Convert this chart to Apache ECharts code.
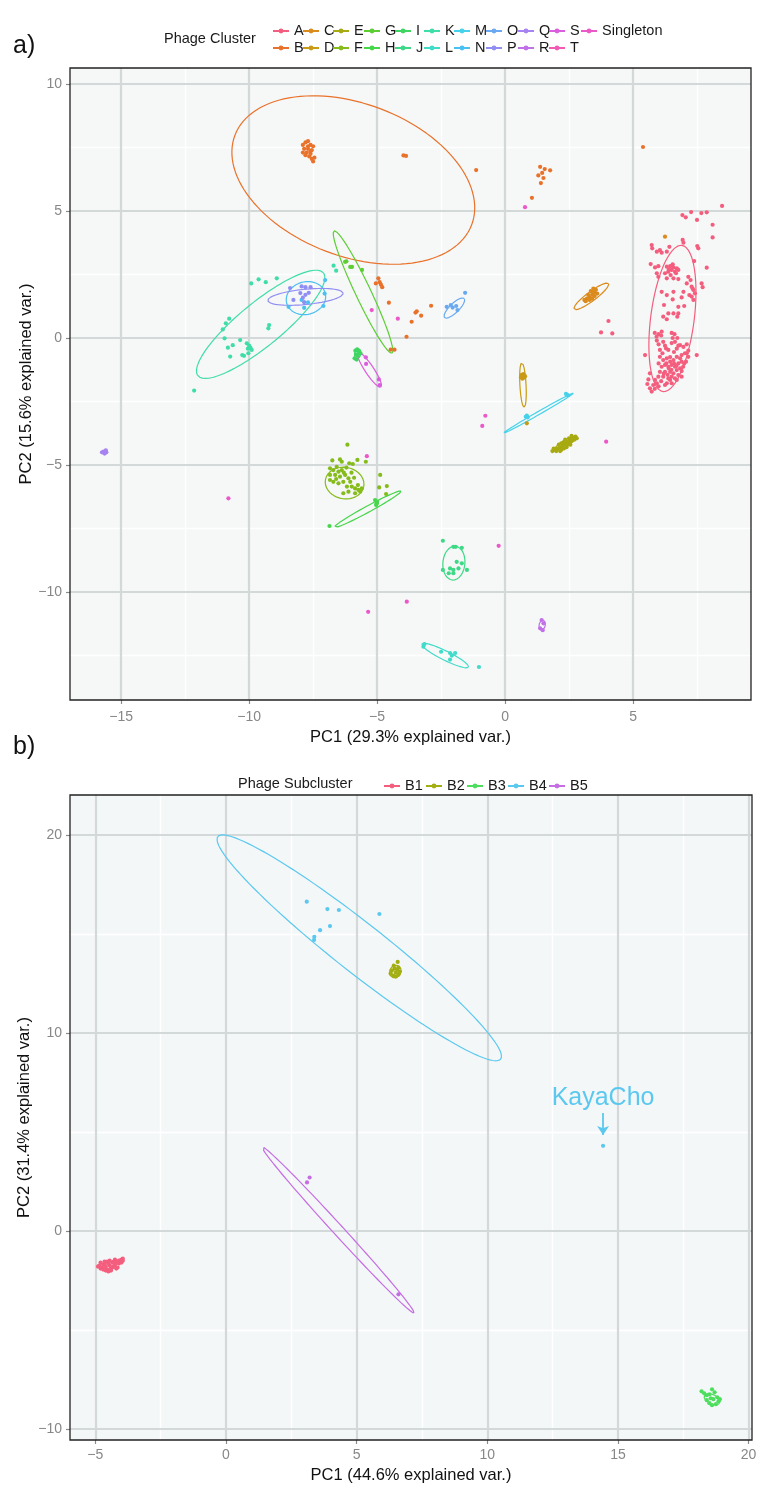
<!DOCTYPE html>
<html><head><meta charset="utf-8">
<script src="https://cdn.jsdelivr.net/npm/echarts@6.0.0/dist/echarts.min.js"></script>
<style>html,body{margin:0;padding:0;background:#fff}#c{width:770px;height:1502px}</style>
</head><body><div id="c"></div>
<script>
// ---------------- DATA: panel a (Phage Cluster) ----------------
const clusterNames = ['A','B','C','D','E','F','G','H','I','J','K','L','M','N','O','P','Q','R','S','T','Singleton'];
const ptsA = [[8.48,5.2],[6.93,4.84],[7.06,4.75],[7.27,4.96],[7.67,4.92],[7.88,4.95],[7.5,4.65],[8.11,4.46],[8.11,3.96],
[6.94,3.86],[6.97,3.75],[5.73,3.66],[5.75,3.53],[5.93,3.4],[6.05,3.46],[6.12,3.36],[6.32,3.4],[6.42,3.59],[7.51,3.62],[7.55,3.53],[7.39,3.03],[7.88,2.77],[5.69,2.91],[5.86,2.78],[5.99,2.83],
[6.32,2.81],[6.45,2.83],[6.58,2.78],[6.71,2.74],[6.51,2.68],[6.64,2.61],[6.38,2.61],[6.25,2.55],[6.47,2.48],[6.77,2.68],[6.32,2.35],[6.58,2.35],[5.93,2.55],[5.99,2.41],[6.4,2.7],[6.55,2.9],[6.68,2.55],
[7.16,2.41],[7.25,2.28],[7.1,2.15],[7.29,2.02],[7.36,1.89],[7.42,1.76],[7.29,1.63],[7.36,1.5],[7.2,1.69],[6.97,1.82],[7.68,2.15],[7.72,2.0],[6.77,2.32],[7.33,1.95],
[6.12,1.82],[6.32,1.69],[6.58,1.82],[6.55,1.52],[6.38,0.97],[6.58,0.97],[6.77,0.97],[6.18,0.84],[6.32,0.74],[6.77,1.23],[7.0,1.26],[6.21,1.3],[6.73,0.84],[6.9,1.6],
[4.04,0.67],[3.75,0.22],[4.19,0.18],
[5.85,0.2],[6.0,0.15],[5.92,0.05],[6.1,0.1],[6.12,0.25],[6.51,0.2],[6.62,0.15],[6.73,0.0],[6.55,0.0],
[5.93,-0.1],[6.0,-0.25],[6.18,-0.15],[6.25,-0.3],[6.51,-0.2],[6.64,-0.15],[6.77,-0.3],[6.71,-0.42],[6.29,-0.41],[6.38,-0.47],[6.05,-0.47],[6.84,-0.28],[6.97,-0.35],[7.1,-0.25],[7.16,-0.5],[7.03,-0.6],[5.47,-0.67],[7.49,-0.67],
[6.05,-0.74],[6.18,-0.87],[6.32,-0.8],[6.45,-0.93],[6.58,-0.87],[6.71,-0.74],[6.84,-0.8],[6.25,-1.06],[6.38,-1.13],[6.51,-1.06],[6.64,-1.13],[6.77,-1.0],[6.9,-0.93],[6.12,-1.13],[6.05,-1.33],[6.25,-1.33],[6.45,-1.33],[6.58,-1.39],[6.71,-1.26],[6.84,-1.19],[6.96,-1.13],[5.99,-1.52],[6.18,-1.52],[6.38,-1.59],[6.51,-1.52],[6.64,-1.59],[6.77,-1.46],[6.32,-1.78],[6.51,-1.78],[6.71,-1.65],[6.9,-1.52],[5.86,-1.65],[5.79,-1.85],[5.93,-1.78],[5.66,-1.39],[5.6,-1.63],[5.56,-1.81],[5.66,-1.98],[5.73,-2.11],[7.1,-0.6],[7.16,-0.74],[7.07,-0.93],[6.9,-0.67],
[6.4,-1.2],[6.3,-1.0],[6.6,-1.0],[6.5,-1.25],[6.2,-1.4],[6.7,-1.1],[6.45,-0.75],[6.35,-1.45],[6.0,-1.0],[6.15,-0.6],[6.6,-0.55],[6.9,-1.3],[7.0,-1.0],[6.1,-1.7],[6.45,-1.65],[6.25,-1.85],[6.0,-1.9],[5.85,-2.0]];
const ptsB = [[-7.9,7.6],[-7.8,7.7],[-7.7,7.75],[-7.6,7.6],[-7.5,7.55],[-7.85,7.45],[-7.7,7.45],[-7.55,7.4],[-7.75,7.3],[-7.6,7.25],[-7.9,7.3],[-7.8,7.2],[-7.65,7.15],[-7.55,7.05],[-7.5,6.95],[-7.45,7.1],[-7.7,7.55],[-7.6,7.35],
[-3.97,7.19],[-3.87,7.17],[-1.13,6.61],[1.37,6.74],[1.55,6.65],[1.45,6.5],[1.3,6.4],[1.76,6.6],[1.5,6.3],[1.4,6.1],[1.05,5.52],[5.39,7.52],
[-4.95,2.35],[-4.9,2.2],[-4.85,2.1],[-5.05,2.15],[-4.8,2.0],[-4.54,1.39],[-3.65,0.64],[-3.5,1.0],[-3.45,1.05],[-3.28,0.88],[-2.89,1.27],[-3.85,0.05],[-4.47,-0.46],[-4.32,-0.46]];
const ptsC = [[3.2,1.55],[3.3,1.6],[3.4,1.7],[3.5,1.8],[3.55,1.9],[3.45,1.95],[3.35,1.85],[3.25,1.7],[3.4,1.55],[3.5,1.65],[3.6,1.75],[3.3,1.5],[3.15,1.45],[3.1,1.5],[3.45,1.8],[6.25,3.99]];
const ptsD = [[0.65,-1.45],[0.7,-1.5],[0.75,-1.55],[0.68,-1.6],[0.72,-1.42],[0.62,-1.55],[0.78,-1.5],[0.85,-3.36]];
const ptsE = [[1.85,-4.45],[1.95,-4.4],[2.05,-4.35],[2.15,-4.3],[2.25,-4.25],[2.35,-4.2],[2.45,-4.1],[2.55,-4.0],[2.65,-3.95],[2.75,-3.88],[2.6,-3.85],[2.5,-4.1],[2.4,-4.3],[2.3,-4.35],[2.2,-4.4],[2.0,-4.45],[2.1,-4.2],[2.3,-4.1],[2.45,-4.2],[2.6,-4.05],[2.7,-4.0],[2.55,-4.2],[2.35,-4.0],[2.15,-4.45],[2.8,-3.95],[2.5,-3.95],[1.9,-4.35],[2.2,-4.15]];
const ptsF = [[-6.16,-4.2],[-5.44,-4.87],[-5.77,-4.8],[-6.75,-4.82],[-6.45,-4.78],[-6.38,-4.87],[-6.09,-4.93],[-5.95,-4.96],[-6.84,-5.13],[-6.71,-5.2],[-6.58,-5.07],[-6.51,-5.26],[-6.38,-5.2],[-6.64,-5.39],[-6.84,-5.39],[-6.45,-5.46],[-6.25,-5.39],[-6.12,-5.52],[-6.05,-5.66],[-6.32,-5.66],[-6.51,-5.72],[-6.71,-5.66],[-6.84,-5.59],[-6.18,-5.85],[-5.99,-5.85],[-5.86,-5.92],[-5.73,-5.98],[-6.12,-6.05],[-6.32,-6.11],[-5.86,-6.11],[-5.66,-6.05],[-5.6,-5.92],[-5.75,-5.79],[-6.3,-5.3],[-6.2,-5.1],[-5.9,-5.5],[-6.6,-5.55],[-6.0,-5.3],[-4.88,-5.39],[-4.92,-5.88],[-4.62,-5.83],[-4.65,-6.14]];
const ptsG = [[-6.25,3.0],[-6.2,3.02],[-6.05,2.8],[-5.98,2.8],[-5.59,2.68]];
const ptsH = [[-6.86,-7.4],[-5.08,-6.38],[-5.01,-6.51],[-5.04,-6.57],[-5.0,-6.45]];
const ptsI = [[-5.85,-0.5],[-5.78,-0.45],[-5.7,-0.55],[-5.82,-0.65],[-5.75,-0.7],[-5.88,-0.8],[-5.8,-0.85],[-5.65,-0.6],[-5.72,-0.5]];
const ptsJ = [[-2.43,-7.98],[-2.02,-8.22],[-1.93,-8.22],[-1.69,-8.26],[-1.89,-8.81],[-1.69,-8.87],[-2.15,-9.07],[-2.02,-9.13],[-1.82,-9.07],[-1.49,-9.13],[-2.43,-9.13],[-2.2,-9.26],[-2.02,-9.26]];
const ptsK = [[-9.92,2.15],[-9.63,2.31],[-9.35,2.2],[-8.92,2.35],[-10.78,0.76],[-10.91,0.58],[-11.03,0.34],[-9.22,0.51],[-9.25,0.38],[-10.96,-0.01],[-10.35,-0.08],[-10.64,-0.28],[-10.83,-0.38],[-10.09,-0.21],[-9.9,-0.47],[-10.0,-0.3],[-9.95,-0.38],[-10.05,-0.42],[-10.27,-0.67],[-10.2,-0.7],[-10.74,-0.73],[-10.03,-0.6],[-12.15,-2.07],[-6.7,2.85],[-6.6,2.65]];
const ptsL = [[-3.15,-12.05],[-3.19,-12.15],[-2.5,-12.35],[-2.15,-12.4],[-2.08,-12.5],[-1.95,-12.4],[-2.15,-12.66],[-1.02,-12.95]];
const ptsM = [[0.81,-3.1],[0.88,-3.12],[0.85,-3.05],[2.38,-2.2],[2.45,-2.25]];
const ptsN = [[-7.03,2.28],[-8.46,1.23],[-7.85,1.19],[-7.1,1.26],[-7.05,1.75],[-7.7,1.4],[-7.95,1.5]];
const ptsO = [[-2.28,1.23],[-2.12,1.3],[-1.91,1.26],[-1.86,1.1],[-1.56,1.78],[-2.05,1.2]];
const ptsP = [[-8.4,1.97],[-7.95,2.03],[-7.8,2.0],[-7.6,2.0],[-8.0,1.77],[-7.8,1.7],[-7.67,1.78],[-8.27,1.5],[-7.9,1.59],[-7.85,1.41]];
const ptsQ = [[-15.69,-4.47],[-15.6,-4.42],[-15.75,-4.5],[-15.65,-4.55],[-15.58,-4.5]];
const ptsR = [[1.43,-11.1],[1.5,-11.23],[1.37,-11.43],[1.47,-11.5]];
const ptsS = [[-5.44,-0.76],[-5.43,-1.02],[-4.93,-1.63],[-4.9,-1.85]];
const ptsT = [];
const ptsSingleton = [[0.78,5.15],[-4.19,0.76],[-5.21,1.1],[-0.77,-3.06],[-0.89,-3.46],[3.95,-4.08],[-5.4,-4.65],[-0.25,-8.18],[-3.84,-10.38],[-5.35,-10.78],[-10.81,-6.31]];
// ellipses: [centerX, centerY, semiMajor, semiMinor, angleDeg]
const ellA = [6.54,0.77,2.9,0.85,82.7];
const ellB = [-5.93,6.22,4.95,3.0,-21];
const ellC = [3.37,1.64,0.84,0.18,37];
const ellD = [0.7,-1.85,0.88,0.12,-87];
const ellE = [2.35,-4.15,0.45,0.12,30];
const ellF = [-6.27,-5.71,0.76,0.62,-10];
const ellG = [-5.55,1.81,2.66,0.3,-64.8];
const ellH = [-5.37,-6.74,1.49,0.12,28.7];
const ellI = [-5.76,-0.62,0.2,0.12,80];
const ellJ = [-2.0,-8.86,0.67,0.43,85];
const ellK = [-9.55,0.54,3.18,0.85,39.6];
const ellL = [-2.34,-12.5,1.02,0.18,-26.6];
const ellM = [1.3,-2.96,1.58,0.06,30];
const ellN = [-7.78,1.57,0.78,0.64,15];
const ellO = [-1.98,1.18,0.54,0.18,44.6];
const ellP = [-7.8,1.62,1.48,0.3,5.6];
const ellR = [1.45,-11.3,0.2,0.12,80];
const ellS = [-5.3,-1.25,0.82,0.17,-56.7];

// ---------------- DATA: panel b (Phage Subcluster) ----------------
const subNames = ['B1','B2','B3','B4','B5'];
const ptsB1 = [[-4.85,-1.75],[-4.8,-1.6],[-4.75,-1.85],[-4.7,-1.7],[-4.65,-1.55],[-4.6,-1.8],[-4.55,-1.95],[-4.5,-1.65],[-4.45,-1.75],[-4.4,-1.9],[-4.35,-1.6],[-4.3,-1.8],[-4.25,-1.7],[-4.2,-1.55],[-4.15,-1.85],[-4.1,-1.65],[-4.05,-1.5],[-4.0,-1.45],[-3.95,-1.4],[-4.1,-1.5],[-4.6,-2.0],[-4.5,-2.05],[-4.4,-2.0],[-4.7,-1.95],[-4.8,-1.9],[-4.9,-1.8],[-4.55,-1.55],[-4.45,-1.5],[-4.3,-1.55],[-4.2,-1.9],[-4.65,-1.7],[-4.35,-1.85],[-4.0,-1.6],[-3.95,-1.5],[-4.25,-1.45]];
const ptsB2 = [[6.3,13.0],[6.4,12.9],[6.5,12.85],[6.6,12.95],[6.65,13.1],[6.55,13.2],[6.45,13.25],[6.35,13.15],[6.5,13.05],[6.6,13.3],[6.57,13.59],[6.42,13.4]];
const ptsB3 = [[18.2,-8.1],[18.3,-8.2],[18.4,-8.3],[18.5,-8.25],[18.6,-8.0],[18.7,-8.15],[18.8,-8.4],[18.85,-8.6],[18.75,-8.75],[18.6,-8.8],[18.5,-8.7],[18.4,-8.55],[18.65,-8.5],[18.55,-8.45],[18.9,-8.5]];
const ptsB4 = [[3.09,16.63],[3.88,16.26],[4.32,16.21],[5.87,16.01],[3.98,15.4],[3.6,15.19],[3.38,14.86],[3.37,14.7],[14.43,4.3]];
const ptsB5 = [[3.2,2.7],[3.1,2.45],[6.6,-3.2]];
const ellB1 = [-4.45,-1.72,0.3,0.15,20];
const ellB2 = [6.48,13.1,0.32,0.22,80];
const ellB3 = [18.6,-8.5,0.35,0.22,-40];
const ellB4 = [5.1,14.3,7.81,1.1,-46.4];
const ellB5 = [4.29,0.05,5.1,0.22,-55.3];
const kayaCho = {name:'KayaCho', x:14.43, textY:6.72, arrowFrom:5.96, arrowTo:4.85};

// ---------------- TICKS ----------------
const ticksAx = [-15,-10,-5,0,5];
const ticksAy = [-10,-5,0,5,10];
const ticksBx = [-5,0,5,10,15,20];
const ticksBy = [-10,0,10,20];

// ---------------- STYLE ----------------
const FONT = "'Liberation Sans', Arial, Helvetica, sans-serif";
const colorsA = {A:'#F45E7E',B:'#E9722A',C:'#DB8A1C',D:'#C99A14',E:'#A7AA10',F:'#86BC1A',G:'#5DCD34',H:'#45D64A',I:'#3ED660',J:'#3ED987',K:'#3FDDA8',L:'#40DBC9',M:'#45D2EA',N:'#4BC0F2',O:'#6AA9F0',P:'#918EF3',Q:'#A683F0',R:'#C170E8',S:'#DA5EDD',T:'#F15BB5',Singleton:'#EB59C9'};
const colorsB = {B1:'#F45E7E',B2:'#A3AE13',B3:'#4CDE5C',B4:'#5BC8EF',B5:'#C56DE3'};

const ptsMapA = {A:ptsA,B:ptsB,C:ptsC,D:ptsD,E:ptsE,F:ptsF,G:ptsG,H:ptsH,I:ptsI,J:ptsJ,K:ptsK,L:ptsL,M:ptsM,N:ptsN,O:ptsO,P:ptsP,Q:ptsQ,R:ptsR,S:ptsS,T:ptsT,Singleton:ptsSingleton};
const ellMapA = {A:ellA,B:ellB,C:ellC,D:ellD,E:ellE,F:ellF,G:ellG,H:ellH,I:ellI,J:ellJ,K:ellK,L:ellL,M:ellM,N:ellN,O:ellO,P:ellP,R:ellR,S:ellS};
const ptsMapB = {B1:ptsB1,B2:ptsB2,B3:ptsB3,B4:ptsB4,B5:ptsB5};
const ellMapB = {B1:ellB1,B2:ellB2,B3:ellB3,B4:ellB4,B5:ellB5};

function ellipse(p){
  if(!p) return [];
  const [cx,cy,a,b,deg]=p; const t0=deg*Math.PI/180; const out=[];
  for(let i=0;i<=120;i++){const t=i/120*2*Math.PI;
    out.push([cx+a*Math.cos(t)*Math.cos(t0)-b*Math.sin(t)*Math.sin(t0), cy+a*Math.cos(t)*Math.sin(t0)+b*Math.sin(t)*Math.cos(t0)]);}
  return out;
}
const fmt = v => (v<0 ? '\u2212'+Math.abs(v) : String(v));

function mainAxis(grid,min,max,ticks,name,nameGap,splitNumber,labelMargin){
  return {type:'value',gridIndex:grid,min,max,splitNumber,z:1,
    name,nameLocation:'middle',nameGap,nameMoveOverlap:false,nameTextStyle:{fontSize:16.5,color:'#111',fontFamily:FONT},
    axisLine:{show:false,onZero:false},
    axisTick:{show:true,length:4,lineStyle:{color:'#8a8a8a',width:1.2},customValues:ticks},
    axisLabel:{customValues:ticks,formatter:fmt,color:'#878787',fontSize:14,margin:labelMargin,fontFamily:FONT},
    splitLine:{show:true,lineStyle:{color:'#D3D8D9',width:2.2}},
    minorTick:{show:false,splitNumber:2},minorSplitLine:{show:false}};
}
function minorAxis(grid,min,max,splitNumber){
  return {type:'value',gridIndex:grid,min,max,splitNumber,z:0,
    axisLine:{show:false,onZero:false},axisTick:{show:false},axisLabel:{show:false},
    splitLine:{show:false},minorTick:{show:false,splitNumber:2},
    minorSplitLine:{show:true,lineStyle:{color:'#ffffff',width:1.4}}};
}

const A_X=[-17.0,9.61], A_Y=[-14.25,10.63], B_X=[-5.97,20.13], B_Y=[-10.56,22.02];

const series=[];
function addGroup(name,color,pts,ell,xi,yi){
  series.push({type:'line',name,xAxisIndex:xi,yAxisIndex:yi,data:ellipse(ell),symbol:'circle',showSymbol:false,
    color,lineStyle:{color,width:1.2},itemStyle:{color},z:3,silent:true,animation:false});
}
function addPts(name,color,pts,xi,yi,extra){
  series.push(Object.assign({type:'scatter',name,xAxisIndex:xi,yAxisIndex:yi,data:pts,symbol:'circle',symbolSize:4.2,
    color,itemStyle:{color,opacity:1},z:4,silent:true,animation:false},extra||{}));
}
clusterNames.forEach(n=>addGroup(n,colorsA[n],ptsMapA[n],ellMapA[n],0,0));
clusterNames.forEach(n=>addPts(n,colorsA[n],ptsMapA[n],0,0));
subNames.forEach(n=>addGroup(n,colorsB[n],ptsMapB[n],ellMapB[n],2,2));
subNames.forEach(n=>{
  let extra=null;
  if(n==='B4'){
    extra={
      markPoint:{symbol:'circle',symbolSize:1,itemStyle:{color:'rgba(0,0,0,0)'},silent:true,animation:false,
        data:[{coord:[kayaCho.x,kayaCho.textY],label:{show:true,formatter:kayaCho.name,position:'inside',color:colorsB.B4,fontSize:25,fontFamily:FONT}}]},
      markLine:{silent:true,animation:false,symbol:['none','arrow'],symbolSize:9,label:{show:false},
        lineStyle:{color:colorsB.B4,width:1.8,type:'solid'},
        data:[[{coord:[kayaCho.x,kayaCho.arrowFrom]},{coord:[kayaCho.x,kayaCho.arrowTo]}]]}
    };
  }
  addPts(n,colorsB[n],ptsMapB[n],2,2,extra);
});

// legends
const legendColsA=[['A','B'],['C','D'],['E','F'],['G','H'],['I','J'],['K','L'],['M','N'],['O','P'],['Q','R'],['S','T'],['Singleton']];
const colXA=[272,302,332,363,394,423,453,485,517,548,580];
const colXB=[383,425,466,507,548];
function legendItem(nm,left,top){
  return {data:[nm],left,top,orient:'horizontal',padding:0,itemGap:0,itemWidth:16,itemHeight:6,
    selectedMode:false,lineStyle:{width:2},textStyle:{fontSize:14.5,color:'#1a1a1a',fontFamily:FONT,lineHeight:16}};
}
const legends=[];
legendColsA.forEach((col,i)=>col.forEach((nm,r)=>legends.push(legendItem(nm,colXA[i],r===0?23:40))));
subNames.forEach((nm,i)=>legends.push(legendItem(nm,colXB[i],778)));

const option={
  animation:false,
  backgroundColor:'#ffffff',
  grid:[
    {left:70,top:68,width:681,height:632,show:true,backgroundColor:'#F6F7F7',borderWidth:0},
    {left:70,top:795,width:682,height:645,show:true,backgroundColor:'#F4F7F8',borderWidth:0}
  ],
  xAxis:[
    mainAxis(0,A_X[0],A_X[1],ticksAx,'PC1 (29.3% explained var.)',29,5,10),
    minorAxis(0,A_X[0],A_X[1],5),
    mainAxis(1,B_X[0],B_X[1],ticksBx,'PC1 (44.6% explained var.)',27,5,8),
    minorAxis(1,B_X[0],B_X[1],5)
  ],
  yAxis:[
    mainAxis(0,A_Y[0],A_Y[1],ticksAy,'PC2 (15.6% explained var.)',35,5,8),
    minorAxis(0,A_Y[0],A_Y[1],5),
    mainAxis(1,B_Y[0],B_Y[1],ticksBy,'PC2 (31.4% explained var.)',37,3,8),
    minorAxis(1,B_Y[0],B_Y[1],3)
  ],
  legend:legends,
  series,
  graphic:[
    {type:'rect',z:100,silent:true,shape:{x:70,y:68,width:681,height:632},style:{fill:'none',stroke:'#222',lineWidth:1.3}},
    {type:'rect',z:100,silent:true,shape:{x:70,y:795,width:682,height:645},style:{fill:'none',stroke:'#222',lineWidth:1.3}},
    {type:'text',z:100,left:13,top:34,style:{text:'a)',fill:'#111',font:'25px '+FONT}},
    {type:'text',z:100,left:13,top:735,style:{text:'b)',fill:'#111',font:'25px '+FONT}},
    {type:'text',z:100,left:164,top:31,style:{text:'Phage Cluster',fill:'#1a1a1a',font:'14.5px '+FONT}},
    {type:'text',z:100,left:238,top:776,style:{text:'Phage Subcluster',fill:'#1a1a1a',font:'14.5px '+FONT}}
  ]
};
const chart=echarts.init(document.getElementById('c'),null,{renderer:'canvas'});
chart.setOption(option);
</script></body></html>
